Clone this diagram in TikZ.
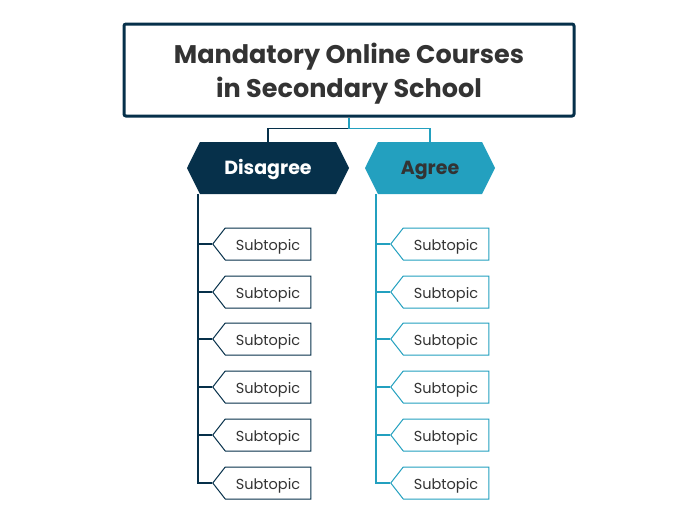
\documentclass[tikz,border=0pt]{standalone}
\usepackage{fontspec}
\setmainfont{Poppins}
\usetikzlibrary{shapes.symbols}
\definecolor{navy}{HTML}{06304A}
\definecolor{agreeteal}{HTML}{23A0BF}
\definecolor{ink}{HTML}{333333}

\begin{document}
\begin{tikzpicture}
[
x=1pt, y=-1pt,
title/.style={draw=navy, line width=3pt, rounded corners=2pt, minimum width=450pt, minimum height=92pt, align=center, text=ink, text depth=0pt, font=\bfseries\fontsize{25.5}{34}\selectfont},
side/.style 2 args={signal, signal to=west and east, signal pointer angle=127, fill=#1, text=#2, minimum height=52pt, inner sep=0pt, text height=13.5pt, text depth=0pt, font=\bfseries\fontsize{19}{22}\selectfont},
subtopic/.style={signal, signal to=west, signal pointer angle=104, draw=#1, fill=white, line width=1pt, minimum width=98pt, minimum height=32pt, inner sep=0pt, text=ink, text height=12pt, text depth=0pt, font=\fontsize{14.5}{16}\selectfont},
trunk/.style={draw=#1, line width=1.5pt},
]
\useasboundingbox (0,0) rectangle (697,520);

%Place the nodes
\node[title] (main) at (349,70) {Mandatory Online Courses\\ in Secondary School};
\node[side={navy}{white}, minimum width=162pt] (dis) at (268,168) {Disagree};
\node[side={agreeteal}{ink}, minimum width=130pt] (agr) at (430,168) {Agree};
\coordinate (dtop) at (198,194);
\coordinate (atop) at (376,194);
\node[subtopic=navy] (d1) at (268,244) {Subtopic};
\node[subtopic=navy] (d2) at (268,292) {Subtopic};
\node[subtopic=navy] (d3) at (268,339) {Subtopic};
\node[subtopic=navy] (d4) at (268,387) {Subtopic};
\node[subtopic=navy] (d5) at (268,435) {Subtopic};
\node[subtopic=navy] (d6) at (268,483) {Subtopic};
\node[subtopic=agreeteal] (a1) at (446,244) {Subtopic};
\node[subtopic=agreeteal] (a2) at (446,292) {Subtopic};
\node[subtopic=agreeteal] (a3) at (446,339) {Subtopic};
\node[subtopic=agreeteal] (a4) at (446,387) {Subtopic};
\node[subtopic=agreeteal] (a5) at (446,435) {Subtopic};
\node[subtopic=agreeteal] (a6) at (446,483) {Subtopic};

%Draw the connections
\draw[trunk=navy] (main.south) ++(0,11) -| (dis.north);
\draw[trunk=agreeteal] (main.south) |- ++(0,11) -| (agr.north);
\draw[trunk=navy] (dtop) |- (d6.west);
\draw[trunk=navy] (dtop |- d1) -- (d1.west);
\draw[trunk=navy] (dtop |- d2) -- (d2.west);
\draw[trunk=navy] (dtop |- d3) -- (d3.west);
\draw[trunk=navy] (dtop |- d4) -- (d4.west);
\draw[trunk=navy] (dtop |- d5) -- (d5.west);
\draw[trunk=agreeteal] (atop) |- (a6.west);
\draw[trunk=agreeteal] (atop |- a1) -- (a1.west);
\draw[trunk=agreeteal] (atop |- a2) -- (a2.west);
\draw[trunk=agreeteal] (atop |- a3) -- (a3.west);
\draw[trunk=agreeteal] (atop |- a4) -- (a4.west);
\draw[trunk=agreeteal] (atop |- a5) -- (a5.west);
\end{tikzpicture}
\end{document}
